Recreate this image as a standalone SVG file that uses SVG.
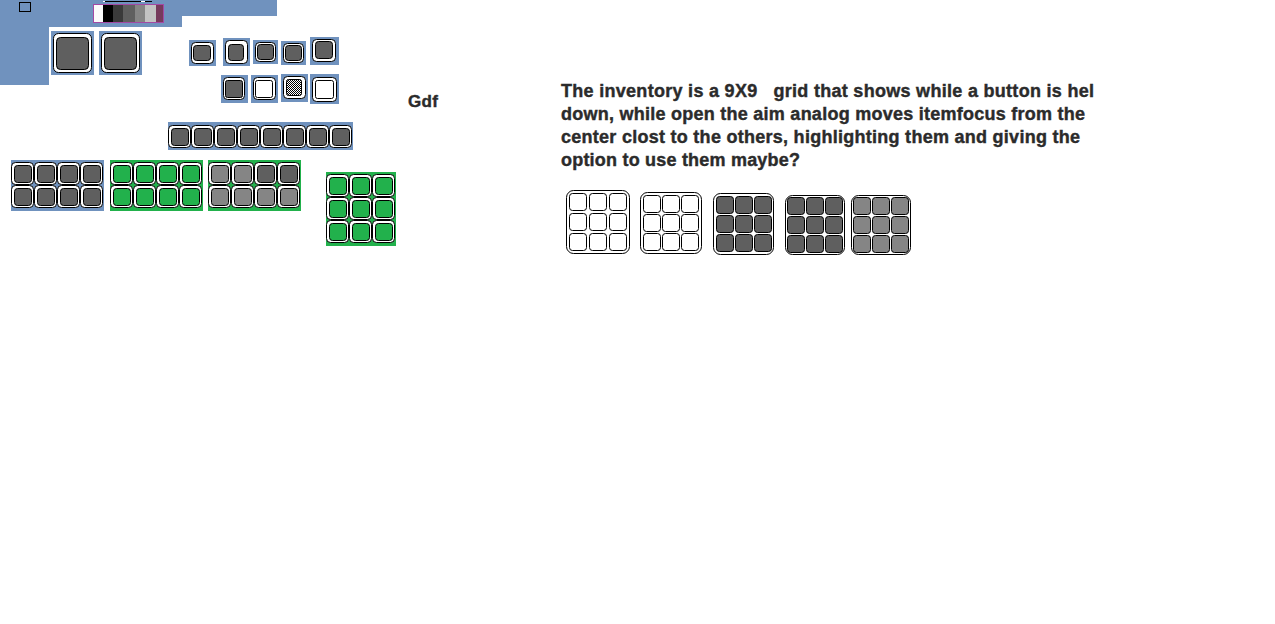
<svg xmlns="http://www.w3.org/2000/svg" width="1275" height="624" viewBox="0 0 1275 624">
<style>
.b{fill:#7092be}.g{fill:#22b14c}
.o{fill:#fff;stroke:#000}
.i{stroke:#000}
.d{fill:#5f5f5f}.l{fill:#858585}.gn{fill:#22b14c}.w{fill:#fff}
text{font-family:"Liberation Sans",Arial,sans-serif;font-weight:bold;fill:#2b2b2b;stroke:#2b2b2b;stroke-width:.4px}
.t{font-size:18px}
</style>
<defs>
<pattern id="h" width="2" height="2" patternUnits="userSpaceOnUse"><rect width="2" height="2" fill="#fff"/><rect width="1" height="1" fill="#000"/><rect x="1" y="1" width="1" height="1" fill="#000"/></pattern>
<g id="s"><rect class="o" x=".5" y=".5" width="22" height="22" rx="4"/><rect class="i" x="3.5" y="3.5" width="17" height="17" rx="3"/></g>
<rect id="c" class="i" x=".5" y=".5" width="17" height="17" rx="3"/>
</defs>
<rect width="1275" height="624" fill="#fff"/>
<g id="bg"><path class="b" d="M0 0H277V16H182V27H49V85H0Z"/></g>
<g id="marker"><rect x="19.500" y="2.500" width="11" height="9" fill="none" stroke="#000"/></g>
<g id="palette">
<path d="M105 1.500H141M145 1.500H152" stroke="#000"/><path d="M103 1.500H105M141 1.500H145" stroke="#fff"/>
<rect x="94" y="5" width="9" height="18" fill="#fbfbfb"/><rect x="103" y="5" width="10" height="18" fill="#000"/><rect x="113" y="5" width="10" height="18" fill="#3a3a3a"/><rect x="123" y="5" width="12" height="18" fill="#5f5f5f"/><rect x="135" y="5" width="10" height="18" fill="#858585"/><rect x="145" y="5" width="11" height="18" fill="#c3c3c3"/><rect x="156" y="5" width="8" height="18" fill="#763a5c"/>
<rect x="93.500" y="4.500" width="70" height="18" fill="none" stroke="#a349a4"/></g>
<g id="big1"><rect class="b" x="51" y="31" width="43" height="44"/><rect class="o" x="53.500" y="33.500" width="38" height="39" rx="5"/><rect class="i d" x="56.500" y="37.500" width="32" height="32" rx="4"/></g>
<g id="big2"><rect class="b" x="99" y="31" width="43" height="44"/><rect class="o" x="101.500" y="33.500" width="38" height="39" rx="5"/><rect class="i d" x="104.500" y="37.500" width="32" height="32" rx="4"/></g>
<g id="slot1"><rect class="b" x="189" y="40" width="27" height="26"/><rect class="o" x="191.500" y="42.500" width="22" height="21" rx="4"/><rect class="i d" x="193.500" y="45.500" width="17" height="15" rx="3"/></g>
<g id="slot2"><rect class="b" x="223" y="38" width="27" height="28"/><rect class="o" x="225.500" y="40.500" width="22" height="23" rx="4"/><rect class="i d" x="228.500" y="44.500" width="15" height="16" rx="3"/></g>
<g id="slot3"><rect class="b" x="253" y="40" width="25" height="24"/><rect class="o" x="255.500" y="42.500" width="20" height="19" rx="4"/><rect class="i d" x="257.500" y="44.500" width="16" height="15" rx="3"/></g>
<g id="slot4"><rect class="b" x="281" y="41" width="25" height="24"/><rect class="o" x="283.500" y="43.500" width="20" height="19" rx="4"/><rect class="i d" x="285.500" y="45.500" width="16" height="15" rx="3"/></g>
<g id="slot5"><rect class="b" x="310" y="37" width="29" height="28"/><rect class="o" x="312.500" y="39.500" width="23" height="22" rx="4"/><rect class="i d" x="315.500" y="41.500" width="17" height="17" rx="3"/></g>
<g id="slot6"><rect class="b" x="221" y="75" width="27" height="28"/><rect class="o" x="223.500" y="77.500" width="21" height="22" rx="4" stroke="#444"/><rect class="i d" x="225.500" y="80.500" width="17" height="17" rx="2"/></g>
<g id="slot7"><rect class="b" x="251" y="75" width="27" height="28"/><rect class="o" x="253.500" y="77.500" width="22" height="22" rx="4"/><rect class="i w" x="255.500" y="80.500" width="17" height="17" rx="2"/></g>
<g id="slot8"><rect class="b" x="281" y="74" width="27" height="28"/><rect class="o" x="283.500" y="76.500" width="22" height="22" rx="4"/><rect class="i" fill="url(#h)" x="286.500" y="79.500" width="15" height="16" rx="2"/></g>
<g id="slot9"><rect class="b" x="310" y="74" width="29" height="30"/><rect class="o" x="312.500" y="77.500" width="24" height="24" rx="4"/><rect class="i w" x="315.500" y="80.500" width="18" height="18" rx="2"/></g>
<g id="bar"><rect class="b" x="168" y="122" width="185" height="28"/>
<use href="#s" class="d" x="168" y="125"/><use href="#s" class="d" x="191" y="125"/><use href="#s" class="d" x="214" y="125"/><use href="#s" class="d" x="237" y="125"/><use href="#s" class="d" x="260" y="125"/><use href="#s" class="d" x="283" y="125"/><use href="#s" class="d" x="306" y="125"/><use href="#s" class="d" x="329" y="125"/></g>
<g id="gridA"><rect class="b" x="11" y="160" width="93" height="51"/>
<use href="#s" class="d" x="11" y="162"/><use href="#s" class="d" x="34" y="162"/><use href="#s" class="d" x="57" y="162"/><use href="#s" class="d" x="80" y="162"/>
<use href="#s" class="d" x="11" y="185"/><use href="#s" class="d" x="34" y="185"/><use href="#s" class="d" x="57" y="185"/><use href="#s" class="d" x="80" y="185"/></g>
<g id="gridB"><rect class="g" x="110" y="160" width="93" height="51"/>
<use href="#s" class="gn" x="110" y="162"/><use href="#s" class="gn" x="133" y="162"/><use href="#s" class="gn" x="156" y="162"/><use href="#s" class="gn" x="179" y="162"/>
<use href="#s" class="gn" x="110" y="185"/><use href="#s" class="gn" x="133" y="185"/><use href="#s" class="gn" x="156" y="185"/><use href="#s" class="gn" x="179" y="185"/></g>
<g id="gridC"><rect class="g" x="208" y="160" width="93" height="51"/>
<use href="#s" class="l" x="208" y="162"/><use href="#s" class="l" x="231" y="162"/><use href="#s" class="d" x="254" y="162"/><use href="#s" class="d" x="277" y="162"/>
<use href="#s" class="l" x="208" y="185"/><use href="#s" class="l" x="231" y="185"/><use href="#s" class="l" x="254" y="185"/><use href="#s" class="l" x="277" y="185"/></g>
<g id="gridD"><rect class="g" x="326" y="172" width="70" height="74"/>
<use href="#s" class="gn" x="326" y="174"/><use href="#s" class="gn" x="349" y="174"/><use href="#s" class="gn" x="372" y="174"/>
<use href="#s" class="gn" x="326" y="197"/><use href="#s" class="gn" x="349" y="197"/><use href="#s" class="gn" x="372" y="197"/>
<use href="#s" class="gn" x="326" y="220"/><use href="#s" class="gn" x="349" y="220"/><use href="#s" class="gn" x="372" y="220"/></g>
<g id="label"><text x="408" y="107" font-size="17" textLength="30">Gdf</text></g>
<g id="description"><text class="t" x="561" y="97" xml:space="preserve" textLength="533">The inventory is a 9X9   grid that shows while a button is hel</text>
<text class="t" x="561" y="120" textLength="524">down, while open the aim analog moves itemfocus from the</text>
<text class="t" x="561" y="143" textLength="519">center clost to the others, highlighting them and giving the</text>
<text class="t" x="561" y="166" textLength="239">option to use them maybe?</text></g>
<g id="inv1"><rect class="o" x="566.500" y="190.500" width="63" height="63" rx="7"/>
<use href="#c" class="w" x="569" y="193"/><use href="#c" class="w" x="589" y="193"/><use href="#c" class="w" x="609" y="193"/><use href="#c" class="w" x="569" y="213"/><use href="#c" class="w" x="589" y="213"/><use href="#c" class="w" x="609" y="213"/><use href="#c" class="w" x="569" y="233"/><use href="#c" class="w" x="589" y="233"/><use href="#c" class="w" x="609" y="233"/></g>
<g id="inv2"><rect class="o" x="640.500" y="192.500" width="61" height="61" rx="7"/>
<use href="#c" class="w" x="643" y="195"/><use href="#c" class="w" x="662" y="195"/><use href="#c" class="w" x="681" y="195"/><use href="#c" class="w" x="643" y="214"/><use href="#c" class="w" x="662" y="214"/><use href="#c" class="w" x="681" y="214"/><use href="#c" class="w" x="643" y="233"/><use href="#c" class="w" x="662" y="233"/><use href="#c" class="w" x="681" y="233"/></g>
<g id="inv3"><rect class="o" x="713.500" y="193.500" width="60" height="61" rx="7"/>
<use href="#c" class="d" x="716" y="196"/><use href="#c" class="d" x="735" y="196"/><use href="#c" class="d" x="754" y="196"/><use href="#c" class="d" x="716" y="215"/><use href="#c" class="d" x="735" y="215"/><use href="#c" class="d" x="754" y="215"/><use href="#c" class="d" x="716" y="234"/><use href="#c" class="d" x="735" y="234"/><use href="#c" class="d" x="754" y="234"/></g>
<g id="inv4"><rect class="o" x="785.500" y="195.500" width="59" height="59" rx="7"/>
<use href="#c" class="d" x="787" y="197"/><use href="#c" class="d" x="806" y="197"/><use href="#c" class="d" x="825" y="197"/><use href="#c" class="d" x="787" y="216"/><use href="#c" class="d" x="806" y="216"/><use href="#c" class="d" x="825" y="216"/><use href="#c" class="d" x="787" y="235"/><use href="#c" class="d" x="806" y="235"/><use href="#c" class="d" x="825" y="235"/></g>
<g id="inv5"><rect class="o" x="851.500" y="195.500" width="59" height="59" rx="7"/>
<use href="#c" class="l" x="853" y="197"/><use href="#c" class="l" x="872" y="197"/><use href="#c" class="l" x="891" y="197"/><use href="#c" class="l" x="853" y="216"/><use href="#c" class="l" x="872" y="216"/><use href="#c" class="l" x="891" y="216"/><use href="#c" class="l" x="853" y="235"/><use href="#c" class="l" x="872" y="235"/><use href="#c" class="l" x="891" y="235"/></g>
</svg>
